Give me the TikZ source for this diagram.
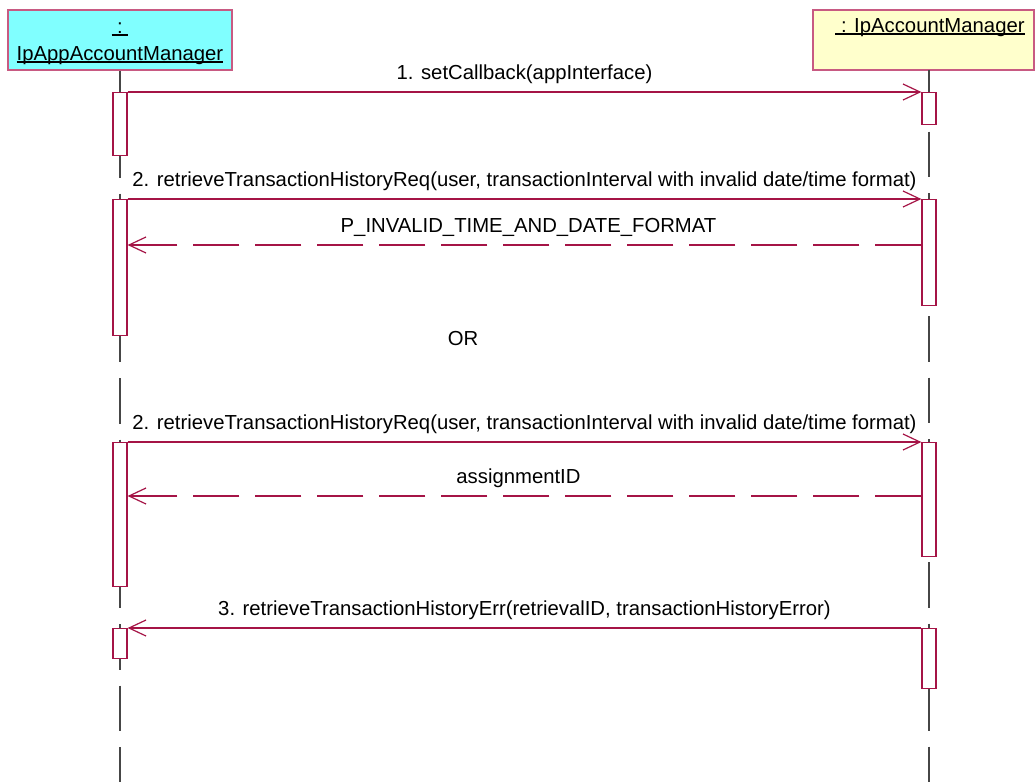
\documentclass[tikz,border=0pt]{standalone}
\usepackage{fontspec}
\setmainfont{Liberation Sans}
\usetikzlibrary{positioning,arrows.meta}
\definecolor{msgred}{RGB}{165,20,70}
\definecolor{hdrred}{RGB}{200,90,130}
\definecolor{objcyan}{RGB}{128,255,255}
\definecolor{objyellow}{RGB}{255,255,204}
\definecolor{lifegray}{RGB}{70,70,70}
\newcommand{\msgfont}{\fontsize{20.3}{27}\selectfont}
\newcommand{\ulabel}[1]{\sbox0{#1}\rlap{\rule[-2.6pt]{\wd0}{1.6pt}}\usebox0}
\tikzset{
objbox/.style={draw=hdrred, line width=1.3pt, minimum height=60pt, inner sep=0pt},
lifeline/.style={draw=lifegray, line width=1.3pt, dash pattern=on 45.5pt off 16pt},
actbox/.style={draw=msgred, fill=white, line width=1.2pt, minimum width=14pt, inner sep=0pt, anchor=north},
msg/.style={draw=msgred, line width=1.2pt, ->},
reply/.style={msg, dash pattern=on 46pt off 16pt},
msglabel/.style={anchor=base, inner sep=0pt, yshift=13pt, text=black}
}

\begin{document}
\begin{tikzpicture}[x=1pt,y=-1pt,font=\msgfont,
  >={Straight Barb[length=17pt,width=16pt]}]
\useasboundingbox (0,0) rectangle (1035,782);

\node[objbox, fill=objcyan, minimum width=224pt] (app) at (120,40) {};
\node[objbox, fill=objyellow, minimum width=221pt] (mgr) at (923.5,40) {};
\node[anchor=base, inner sep=0pt] (appcolon) at (120,33) {\ulabel{~:~}};
\node[anchor=base, inner sep=0pt] (appname) at (120,60) {\ulabel{IpAppAccountManager}};
\node[anchor=base, inner sep=0pt] (mgrname) at (930,32) {\ulabel{\ : IpAccountManager}};

\draw[lifeline] (app.south) -- (app.south |- 0,782);
\draw[lifeline] (929,70) -- (929,782);

\node[actbox, minimum height=63pt] (appact1) at (120,92) {};
\node[actbox, minimum height=136pt] (appact2) at (120,199) {};
\node[actbox, minimum height=144pt] (appact3) at (120,442) {};
\node[actbox, minimum height=30pt] (appact4) at (120,628) {};
\node[actbox, minimum height=32pt] (mgract1) at (929,92) {};
\node[actbox, minimum height=106pt] (mgract2) at (929,199) {};
\node[actbox, minimum height=114pt] (mgract3) at (929,442) {};
\node[actbox, minimum height=60pt] (mgract4) at (929,628) {};

\draw[msg] (appact1.north east) -- (mgract1.north west)
  node[msglabel, midway] {1. setCallback(appInterface)};
\draw[msg] (appact2.north east) -- (mgract2.north west)
  node[msglabel, midway] {2. retrieveTransactionHistoryReq(user, transactionInterval with invalid date/time format)};
\draw[reply] (mgract2.west |- 0,245) -- (appact2.east |- 0,245)
  node[msglabel, midway, xshift=4pt] {P\_INVALID\_TIME\_AND\_DATE\_FORMAT};

\node[anchor=base, inner sep=0pt] (ortext) at (463,345) {OR};

\draw[msg] (appact3.north east) -- (mgract3.north west)
  node[msglabel, midway] {2. retrieveTransactionHistoryReq(user, transactionInterval with invalid date/time format)};
\draw[reply] (mgract3.west |- 0,496) -- (appact3.east |- 0,496)
  node[msglabel, midway, xshift=-6pt] {assignmentID};
\draw[msg] (mgract4.north west) -- (appact4.north east)
  node[msglabel, midway] {3. retrieveTransactionHistoryErr(retrievalID, transactionHistoryError)};
\end{tikzpicture}
\end{document}
